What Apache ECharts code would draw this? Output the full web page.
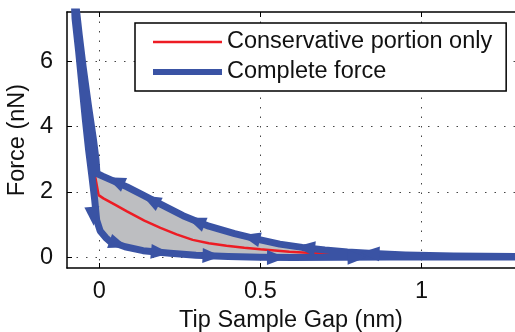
<!DOCTYPE html>
<html>
<head>
<meta charset="utf-8">
<script src="https://cdn.jsdelivr.net/npm/echarts@6/dist/echarts.min.js"></script>
<style>
html, body { margin: 0; padding: 0; background: #fff; }
#chart { width: 515px; height: 332px; }
</style>
</head>
<body>
<div id="chart"></div>
<script>
// axis ticks
const xTicks = [0, 0.5, 1];
const yTicks = [0, 2, 4, 6];

// conservative force (red)
const consGap = [-0.09, -0.045, -0.034, -0.028, -0.002, 0.013, 0.05, 0.086, 0.14, 0.19, 0.24, 0.29, 0.34, 0.395, 0.45, 0.5, 0.59, 0.66, 0.82, 1.0, 1.29];
const consForce = [9.0, 4.6, 3.74, 3.28, 1.9, 1.8, 1.6, 1.4, 1.12, 0.9, 0.7, 0.53, 0.43, 0.35, 0.29, 0.24, 0.17, 0.13, 0.06, 0.03, 0.01];

// complete force: approach branch (moving towards the sample)
const approachGap = [1.29, 1.1, 0.95, 0.85, 0.77, 0.7, 0.63, 0.56, 0.5, 0.42, 0.34, 0.26, 0.19, 0.13, 0.086, 0.04, 0.01, -0.007];
const approachForce = [0.02, 0.04, 0.07, 0.11, 0.16, 0.22, 0.3, 0.4, 0.53, 0.72, 0.95, 1.27, 1.62, 1.93, 2.15, 2.35, 2.48, 2.56];

// contact part going up
const contactGap = [-0.01, -0.018, -0.033, -0.05, -0.062, -0.07, -0.077];
const contactForce = [2.98, 3.6, 4.6, 5.83, 6.8, 7.5, 8.2];

// retract branch (moving away)
const retractGap = [-0.08, -0.075, -0.064, -0.053, -0.043, -0.033, -0.023, -0.014, -0.008, 0.003, 0.02, 0.034, 0.08, 0.136, 0.22, 0.3, 0.4, 0.5, 0.6, 0.75, 0.9, 1.1, 1.29];
const retractForce = [8.4, 7.3, 6.3, 5.2, 4.2, 3.28, 2.5, 1.75, 1.14, 0.8, 0.6, 0.48, 0.32, 0.2, 0.12, 0.06, 0.02, 0.0, -0.01, 0.0, 0.01, 0.01, 0.01];

// arrow heads
const approachArrowGap = [0.05, 0.16, 0.3, 0.47, 0.64, 0.84];
const approachArrowForce = [2.33, 1.75, 1.1, 0.6, 0.29, 0.12];
const retractArrowGap = [-0.02, 0.06, 0.19, 0.35, 0.55, 0.8];
const retractArrowForce = [1.25, 0.4, 0.15, 0.04, -0.01, 0.0];

const zip = (a, b) => a.map((v, i) => [v, b[i]]);

const consData = zip(consGap, consForce);
const approach = zip(approachGap, approachForce);
const contact = zip(contactGap, contactForce);
const retract = zip(retractGap, retractForce);
const loopData = approach.concat(contact, retract);
const fillData = approach.concat(retract.filter(p => p[1] < 2.6));

const blue = '#3a53a4';
const red = '#ed1c24';
const font = 'Liberation Sans, Arial, sans-serif';

const chart = echarts.init(document.getElementById('chart'));

const gridLine = { show: true, lineStyle: { color: '#444', width: 1, type: [1.5, 8] } };

const option = {
    animation: false,
    backgroundColor: '#fff',
    grid: { left: 67, top: 12, right: 0, bottom: 64, containLabel: false, outerBoundsMode: 'none' },
    legend: {
        left: 135, top: 23, orient: 'vertical',
        data: [
            { name: 'Conservative portion only', lineStyle: { width: 2.5, color: red } },
            { name: 'Complete force', lineStyle: { width: 6, color: blue } }
        ],
        itemWidth: 69, itemHeight: 14, itemGap: 4,
        itemStyle: { opacity: 0 },
        padding: [6, 14, 6, 15],
        borderColor: '#000', borderWidth: 1.5, backgroundColor: '#fff',
        textStyle: { fontFamily: font, fontSize: 23.5, color: '#111', lineHeight: 26 }
    },
    xAxis: [{
        type: 'value', min: -0.1, max: 1.29,
        name: 'Tip Sample Gap (nm)', nameLocation: 'middle', nameGap: 37,
        nameTextStyle: { fontFamily: font, fontSize: 23.5, color: '#111' },
        axisLine: { show: true, onZero: false, lineStyle: { color: '#000', width: 1.5 } },
        axisTick: { show: true, inside: true, length: 5, customValues: xTicks, lineStyle: { color: '#000' } },
        axisLabel: { customValues: xTicks, margin: 12, fontFamily: font, fontSize: 23.5, color: '#111' },
        splitLine: gridLine
    }, {
        type: 'value', position: 'top', min: -0.1, max: 1.29,
        axisLine: { show: true, onZero: false, lineStyle: { color: '#000', width: 1.5 } },
        axisTick: { show: true, inside: true, length: 5, customValues: xTicks, lineStyle: { color: '#000' } },
        axisLabel: { show: false },
        splitLine: { show: false }
    }],
    yAxis: {
        type: 'value', min: -0.33, max: 7.5,
        name: 'Force (nN)', nameLocation: 'middle', nameGap: 34,
        nameTextStyle: { fontFamily: font, fontSize: 23.5, color: '#111' },
        axisLine: { show: true, onZero: false, lineStyle: { color: '#000', width: 1.5 } },
        axisTick: { show: true, inside: true, length: 5, customValues: yTicks, lineStyle: { color: '#000' } },
        axisLabel: { customValues: yTicks, margin: 14, fontFamily: font, fontSize: 23.5, color: '#111' },
        splitLine: gridLine
    },
    series: [{
        id: 'fill',
        type: 'custom',
        data: fillData,
        encode: { x: 0, y: 1 },
        z: 1,
        silent: true,
        renderItem: (params, api) => {
            if (params.dataIndex !== 0) return;
            const pts = fillData.map(p => api.coord(p));
            return { type: 'polygon', shape: { points: pts }, style: { fill: '#bdbec1' } };
        }
    }, {
        id: 'cons',
        name: 'Conservative portion only',
        type: 'line',
        data: consData,
        symbol: 'none',
        z: 2,
        lineStyle: { color: red, width: 2.5 },
        itemStyle: { color: red }
    }, {
        id: 'complete',
        name: 'Complete force',
        type: 'line',
        data: loopData,
        symbol: 'none',
        z: 3,
        lineStyle: { color: blue, width: 7, join: 'round' },
        itemStyle: { color: blue }
    }, {
        id: 'arrows',
        type: 'scatter',
        data: [],
        symbol: 'triangle',
        symbolSize: [15, 19],
        z: 4,
        itemStyle: { color: blue, opacity: 1 }
    }]
};

chart.setOption(option);

// orient each arrow head along the nearest segment of its branch
function arrowItems(gaps, forces, branch) {
    const px = branch.map(p => chart.convertToPixel({ gridIndex: 0 }, p));
    return gaps.map((g, i) => {
        const a = chart.convertToPixel({ gridIndex: 0 }, [g, forces[i]]);
        let best = 0, bestD = Infinity;
        for (let k = 0; k < px.length - 1; k++) {
            const mx = (px[k][0] + px[k + 1][0]) / 2, my = (px[k][1] + px[k + 1][1]) / 2;
            const d = (mx - a[0]) ** 2 + (my - a[1]) ** 2;
            if (d < bestD) { bestD = d; best = k; }
        }
        const dx = px[best + 1][0] - px[best][0];
        const dy = px[best + 1][1] - px[best][1];
        const rot = Math.atan2(-dx, -dy) * 180 / Math.PI;
        return { value: [g, forces[i]], symbolRotate: rot };
    });
}

const arrowData = arrowItems(approachArrowGap, approachArrowForce, approach.concat(contact))
    .concat(arrowItems(retractArrowGap, retractArrowForce, retract));

chart.setOption({ series: [{ id: 'arrows', data: arrowData }] });
</script>
</body>
</html>
